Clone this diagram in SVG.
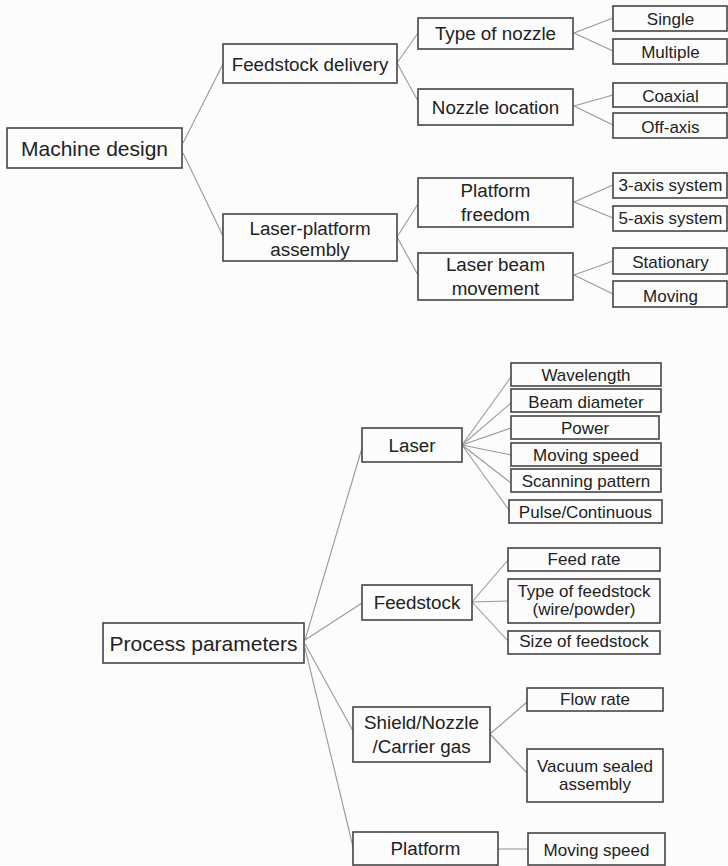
<svg xmlns="http://www.w3.org/2000/svg" width="728" height="866" viewBox="0 0 728 866">
<style>
.bg{fill:#fcfcfc}
rect.n{fill:#fcfcfc;stroke:#444;stroke-width:1.6}
text{font-family:"Liberation Sans",Arial,sans-serif;fill:#222;text-anchor:middle}
.t1{font-size:21px}
.t2{font-size:18.8px}
.t3{font-size:17px}
#connectors line{stroke:#999;stroke-width:1.1}
</style>
<rect class="bg" x="0" y="0" width="728" height="866"/>
<g id="connectors">
<line x1="183" y1="143" x2="223" y2="64"/>
<line x1="183" y1="153" x2="223" y2="236"/>
<line x1="397" y1="63" x2="418" y2="33"/>
<line x1="397" y1="63" x2="418" y2="101"/>
<line x1="397" y1="237" x2="418" y2="204"/>
<line x1="397" y1="237" x2="418" y2="275"/>
<line x1="574" y1="33" x2="613" y2="18"/>
<line x1="574" y1="33" x2="613" y2="51"/>
<line x1="574" y1="106" x2="613" y2="95"/>
<line x1="574" y1="106" x2="613" y2="125"/>
<line x1="574" y1="202" x2="613" y2="185"/>
<line x1="574" y1="202" x2="613" y2="218"/>
<line x1="574" y1="275" x2="613" y2="261"/>
<line x1="574" y1="275" x2="613" y2="294"/>
<line x1="305" y1="640" x2="362" y2="448"/>
<line x1="305" y1="640" x2="362" y2="603"/>
<line x1="305" y1="644" x2="353" y2="731"/>
<line x1="305" y1="648" x2="353" y2="847"/>
<line x1="462" y1="445" x2="511" y2="377"/>
<line x1="462" y1="445" x2="511" y2="403"/>
<line x1="462" y1="445" x2="511" y2="428"/>
<line x1="462" y1="445" x2="511" y2="455"/>
<line x1="462" y1="445" x2="511" y2="483"/>
<line x1="462" y1="445" x2="509" y2="510"/>
<line x1="472" y1="602" x2="508" y2="560"/>
<line x1="472" y1="602" x2="508" y2="601"/>
<line x1="472" y1="602" x2="508" y2="641"/>
<line x1="490" y1="734" x2="527" y2="702"/>
<line x1="490" y1="734" x2="527" y2="773"/>
<line x1="498" y1="849" x2="528" y2="849"/>
</g>
<g id="machine-design"><rect class="n" x="7" y="128" width="175" height="40"/><text class="t1" x="94.5" y="156">Machine design</text></g>
<g id="feedstock-delivery"><rect class="n" x="223" y="44" width="174" height="39"/><text class="t2" x="310" y="70.5">Feedstock delivery</text></g>
<g id="laser-platform-assembly"><rect class="n" x="223" y="214" width="174" height="47"/><text class="t2" x="310" y="234.5">Laser-platform</text><text class="t2" x="310" y="256">assembly</text></g>
<g id="type-of-nozzle"><rect class="n" x="418" y="18" width="155" height="31"/><text class="t2" x="495.5" y="40">Type of nozzle</text></g>
<g id="nozzle-location"><rect class="n" x="418" y="89" width="155" height="36"/><text class="t2" x="495.5" y="113.5">Nozzle location</text></g>
<g id="platform-freedom"><rect class="n" x="418" y="178" width="155" height="49"/><text class="t2" x="495.5" y="197">Platform</text><text class="t2" x="495.5" y="221">freedom</text></g>
<g id="laser-beam-movement"><rect class="n" x="418" y="253" width="155" height="47"/><text class="t2" x="495.5" y="271">Laser beam</text><text class="t2" x="495.5" y="295">movement</text></g>
<g id="single"><rect class="n" x="613" y="6" width="114" height="25"/><text class="t3" x="670.5" y="25">Single</text></g>
<g id="multiple"><rect class="n" x="613" y="39" width="114" height="25"/><text class="t3" x="670.5" y="58">Multiple</text></g>
<g id="coaxial"><rect class="n" x="613" y="83" width="114" height="24"/><text class="t3" x="670.5" y="101.5">Coaxial</text></g>
<g id="off-axis"><rect class="n" x="613" y="113" width="114" height="25"/><text class="t3" x="670.5" y="132.5">Off-axis</text></g>
<g id="axis3"><rect class="n" x="613" y="173" width="114" height="25"/><text class="t3" x="670.5" y="190.5">3-axis system</text></g>
<g id="axis5"><rect class="n" x="613" y="206" width="114" height="25"/><text class="t3" x="670.5" y="224">5-axis system</text></g>
<g id="stationary"><rect class="n" x="613" y="248" width="114" height="26"/><text class="t3" x="670.5" y="268">Stationary</text></g>
<g id="moving"><rect class="n" x="613" y="281" width="114" height="26"/><text class="t3" x="670.5" y="301.5">Moving</text></g>
<g id="process-parameters"><rect class="n" x="103" y="623" width="201" height="40"/><text class="t1" x="203.5" y="650.5">Process parameters</text></g>
<g id="laser"><rect class="n" x="362" y="428" width="100" height="34"/><text class="t2" x="412" y="451.5">Laser</text></g>
<g id="feedstock"><rect class="n" x="362" y="585" width="110" height="35"/><text class="t2" x="417" y="609">Feedstock</text></g>
<g id="shield"><rect class="n" x="353" y="707" width="137" height="55"/><text class="t2" x="421.5" y="729">Shield/Nozzle</text><text class="t2" x="421.5" y="753">/Carrier gas</text></g>
<g id="platform"><rect class="n" x="353" y="832" width="145" height="33"/><text class="t2" x="425.5" y="855">Platform</text></g>
<g id="wavelength"><rect class="n" x="511" y="363" width="150" height="23"/><text class="t3" x="586" y="381">Wavelength</text></g>
<g id="beam-diameter"><rect class="n" x="511" y="389" width="150" height="23"/><text class="t3" x="586" y="407.5">Beam diameter</text></g>
<g id="power"><rect class="n" x="511" y="416" width="148" height="23"/><text class="t3" x="585" y="434">Power</text></g>
<g id="moving-speed-laser"><rect class="n" x="511" y="443" width="150" height="23"/><text class="t3" x="586" y="460.5">Moving speed</text></g>
<g id="scanning-pattern"><rect class="n" x="511" y="469" width="150" height="23"/><text class="t3" x="586" y="486.5">Scanning pattern</text></g>
<g id="pulse-continuous"><rect class="n" x="509" y="500" width="153" height="23"/><text class="t3" x="585.5" y="517.5">Pulse/Continuous</text></g>
<g id="feed-rate"><rect class="n" x="508" y="548" width="152" height="23"/><text class="t3" x="584" y="565">Feed rate</text></g>
<g id="type-of-feedstock"><rect class="n" x="508" y="579" width="152" height="44"/><text class="t3" x="584" y="597">Type of feedstock</text><text class="t3" x="584" y="615">(wire/powder)</text></g>
<g id="size-of-feedstock"><rect class="n" x="508" y="631" width="152" height="23"/><text class="t3" x="584" y="647">Size of feedstock</text></g>
<g id="flow-rate"><rect class="n" x="527" y="688" width="136" height="23"/><text class="t3" x="595" y="705">Flow rate</text></g>
<g id="vacuum-sealed"><rect class="n" x="527" y="749" width="136" height="53"/><text class="t3" x="595" y="772">Vacuum sealed</text><text class="t3" x="595" y="790">assembly</text></g>
<g id="moving-speed-platform"><rect class="n" x="528" y="833" width="137" height="32"/><text class="t3" x="596.5" y="856">Moving speed</text></g>
</svg>
